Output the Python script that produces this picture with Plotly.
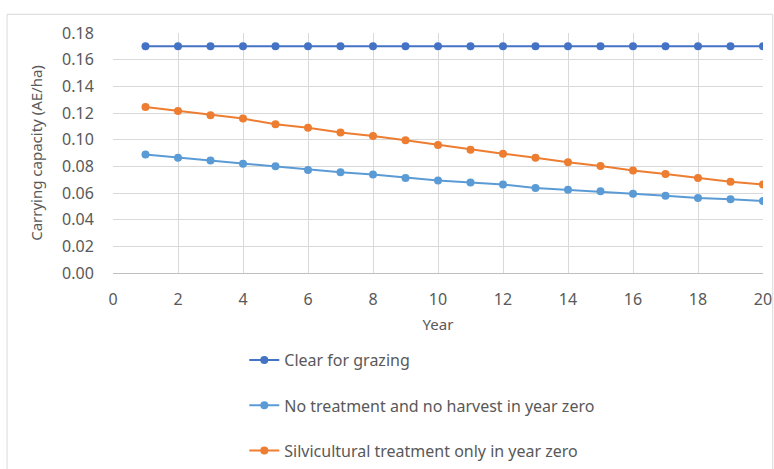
import plotly.graph_objects as go

years = list(range(1, 21))
clear_for_grazing = [0.17] * 20
no_treatment = [0.0888, 0.0865, 0.0843, 0.0820, 0.0800, 0.0773, 0.0755, 0.0738, 0.0713, 0.0693,
                0.0678, 0.0663, 0.0638, 0.0625, 0.0613, 0.0595, 0.0580, 0.0563, 0.0553, 0.0540]
silvicultural = [0.1245, 0.1215, 0.1183, 0.1158, 0.1115, 0.1090, 0.1053, 0.1028, 0.0995, 0.0960,
                 0.0925, 0.0895, 0.0865, 0.0830, 0.0803, 0.0768, 0.0743, 0.0713, 0.0685, 0.0663]
series_names = ["Clear for grazing", "No treatment and no harvest in year zero",
                "Silvicultural treatment only in year zero"]
colors = ["#4472C4", "#5B9BD5", "#ED7D31"]

fig = go.Figure()
for i, (name, vals) in enumerate(zip(series_names, [clear_for_grazing, no_treatment, silvicultural])):
    fig.add_trace(go.Scatter(
        x=years, y=vals, name=name, mode="lines+markers",
        line=dict(color=colors[i], width=2),
        marker=dict(color=colors[i], size=8),
        legendgroup=f"g{i}",
    ))

font_fam = "Noto Sans, Open Sans, sans-serif"
fig.update_layout(
    width=774, height=469,
    margin=dict(l=113, r=11, t=33, b=196, autoexpand=False),
    paper_bgcolor="white", plot_bgcolor="white",
    font=dict(family=font_fam, color="#595959", size=15),
    showlegend=True,
    legend=dict(orientation="v", x=0.202, xanchor="left", y=-0.292, yanchor="top",
                tracegroupgap=21.5, font=dict(size=16, color="#595959"),
                itemwidth=30, bgcolor="rgba(0,0,0,0)"),
    xaxis=dict(range=[0, 20], tickmode="linear", tick0=0, dtick=2,
               showgrid=True, gridcolor="#D9D9D9", gridwidth=1,
               showline=True, linecolor="#BFBFBF", linewidth=1,
               zeroline=False, ticks="outside", ticklen=12, tickcolor="rgba(0,0,0,0)",
               automargin=False,
               title=dict(text="Year", font=dict(size=15), standoff=10),
               tickfont=dict(size=16)),
    yaxis=dict(range=[0, 0.18], tickmode="linear", tick0=0, dtick=0.02,
               tickformat=".2f",
               showgrid=True, gridcolor="#D9D9D9", gridwidth=1,
               zeroline=False, showline=False,
               ticks="outside", ticklen=15, tickcolor="rgba(0,0,0,0)",
               automargin=False,
               title=dict(text="Carrying capacity (AE/ha)", font=dict(size=15), standoff=15),
               tickfont=dict(size=16)),
    shapes=[dict(type="rect", xref="paper", yref="paper",
                 x0=-0.163, x1=1.015, y0=-0.83, y1=1.078,
                 line=dict(color="#D9D9D9", width=1), layer="below")],
)

fig.write_html("out.html", config={"displayModeBar": False},
               post_script="document.body.style.margin='0';document.body.style.overflow='hidden';")
